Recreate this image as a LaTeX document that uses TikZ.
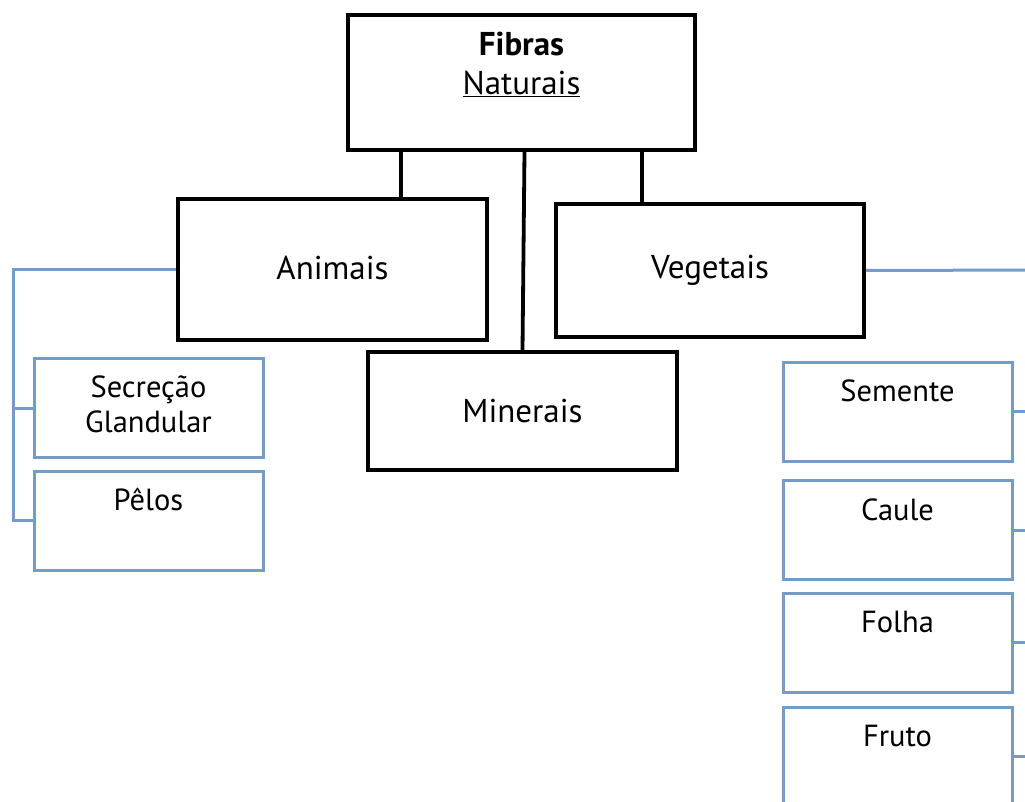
\documentclass[tikz,border=0pt]{standalone}
\usepackage{fontspec}
\setmainfont{PT Sans}
\usepackage{xcolor}
\definecolor{myblue}{RGB}{116,156,198}
\tikzset{
  big font/.style={font=\fontsize{33}{39}\selectfont},
  small font/.style={font=\fontsize{30.5}{35}\selectfont},
  base box/.style={rectangle, inner sep=0pt, align=center},
  class box/.style={base box, big font, draw=black, line width=3.8pt},
  part box/.style={base box, small font, draw=myblue, line width=3pt, minimum width=229pt, minimum height=99pt},
  top text/.style={anchor=base, align=center, yshift=-41pt},
  trunk edge/.style={draw=black, line width=3.8pt},
  branch edge/.style={draw=myblue, line width=3pt}
}

\begin{document}
\begin{tikzpicture}[x=1pt, y=-1pt]
  \useasboundingbox (0,0) rectangle (1025,802);
  \clip (0,0) rectangle (1025,802);

  % ==========================================================
  % ROOT AND MAIN CLASSES
  % ==========================================================

  % multi-line labels sit on their last baseline, hence the extra shift
  \node[class box, minimum width=347pt, minimum height=135pt,
        label={[top text, big font, yshift=-40pt]north:{\textbf{Fibras}\\\underline{Naturais}}}] (fibras) at (521.5, 82.5) {};

  \node[class box, minimum width=309pt, minimum height=141pt] (animais)  at (332.5, 269.5) {\raisebox{3pt}{Animais}};
  \node[class box, minimum width=308pt, minimum height=133pt] (vegetais) at (710, 270.5)   {Vegetais};
  \node[class box, minimum width=309pt, minimum height=118pt] (minerais) at (522.5, 411)   {\raisebox{-3pt}{Minerais}};

  % Links from the root box
  \coordinate (anim-in) at ([xshift=68.5pt]animais.north);
  \coordinate (veg-in)  at ([xshift=-68pt]vegetais.north);
  \draw[trunk edge] (anim-in |- fibras.south) -- (anim-in);
  \draw[trunk edge] (veg-in |- fibras.south) -- (veg-in);
  \draw[trunk edge] ([xshift=3pt]fibras.south) -- (minerais.north);

  % ==========================================================
  % ANIMAL FIBRES (left)
  % ==========================================================

  \node[part box, label={[top text, small font, yshift=-34pt]north:{Secreção\\Glandular}}] (secrecao) at (148.5, 408) {};
  \node[part box, label={[top text, small font]north:Pêlos}] (pelos) at (148.5, 520.5) {};

  \coordinate (left-bus) at (13, 522);
  \draw[branch edge] (animais.west) -| (left-bus);
  \draw[branch edge] (secrecao.west) -- (secrecao.west -| left-bus);
  \draw[branch edge] (pelos.west) -- (pelos.west -| left-bus);

  % ==========================================================
  % PLANT FIBRES (right, running off the page)
  % ==========================================================

  \node[part box, label={[top text, small font]north:Semente}] (semente) at (897.5, 411.5) {};
  \node[part box, label={[top text, small font]north:Caule}]   (caule)   at (897.5, 530)   {};
  \node[part box, label={[top text, small font]north:Folha}]   (folha)   at (897.5, 642.5) {};
  \node[part box, label={[top text, small font]north:Fruto}]   (fruto)   at (897.5, 756.5) {};

  \coordinate (right-bus) at (1040, 270);
  \draw[branch edge] (vegetais.east) -- (right-bus);
  \draw[branch edge] (semente.east) -- (semente.east -| right-bus);
  \draw[branch edge] (caule.east)   -- (caule.east -| right-bus);
  \draw[branch edge] (folha.east)   -- (folha.east -| right-bus);
  \draw[branch edge] (fruto.east)   -- (fruto.east -| right-bus);

\end{tikzpicture}
\end{document}
